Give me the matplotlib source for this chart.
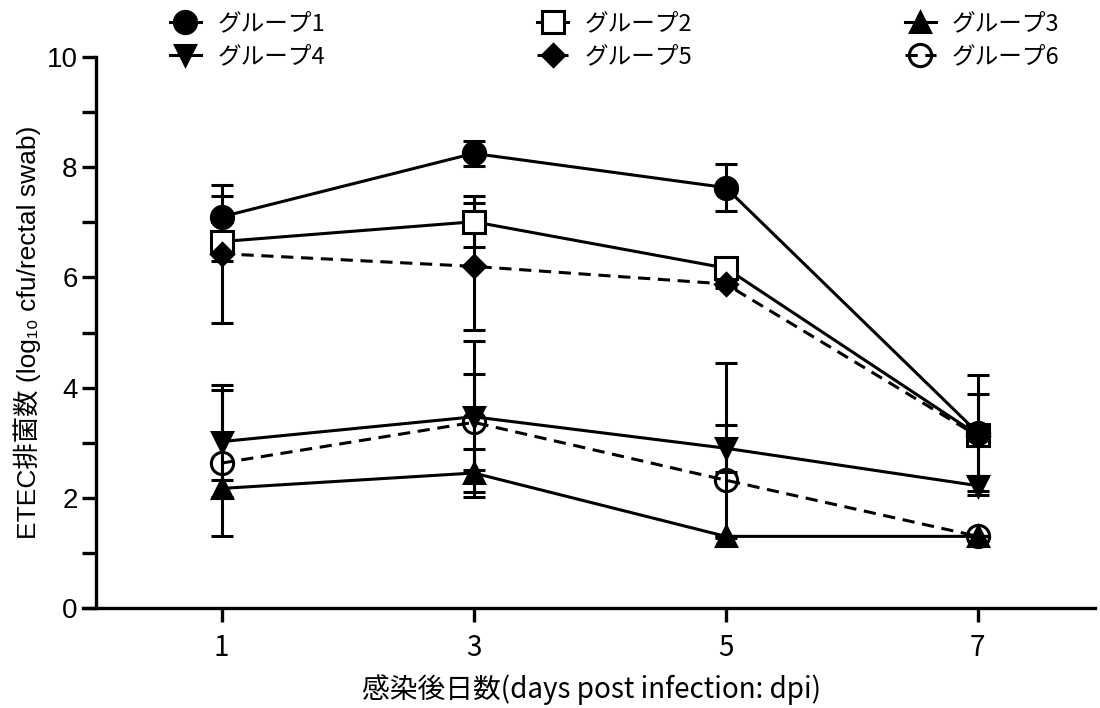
import matplotlib
matplotlib.use("Agg")
import matplotlib.pyplot as plt
from matplotlib.lines import Line2D

plt.rcParams["font.family"] = ["Noto Sans CJK JP", "DejaVu Sans"]

# ===================== データ =====================
days = [1, 3, 5, 7]

labels = ["グループ1", "グループ2", "グループ3", "グループ4", "グループ5", "グループ6"]

g1_mean = [7.10, 8.25, 7.63, 3.18]
g1_err_lo = [0.38, 0.22, 0.42, 1.05]
g1_err_hi = [0.38, 0.22, 0.42, 1.05]

g2_mean = [6.65, 7.01, 6.17, 3.14]
g2_err_lo = [0.36, 0.46, 0.10, 0.75]
g2_err_hi = [0.36, 0.46, 0.10, 0.75]

g3_mean = [2.17, 2.45, 1.30, 1.30]
g3_err_lo = [0.15, 0.43, 0.0, 0.0]
g3_err_hi = [0.15, 0.43, 0.0, 0.0]

g4_mean = [3.02, 3.47, 2.90, 2.22]
g4_err_lo = [1.03, 1.37, 0.43, 0.17]
g4_err_hi = [1.03, 1.37, 0.43, 0.17]

g5_mean = [6.43, 6.20, 5.88, 3.12]
g5_err_lo = [1.25, 1.15, 0.08, 0.10]
g5_err_hi = [1.25, 1.15, 0.08, 0.10]

g6_mean = [2.63, 3.37, 2.32, 1.30]
g6_err_lo = [1.33, 0.87, 1.05, 0.0]
g6_err_hi = [1.33, 0.87, 2.13, 0.0]

y_ticks = [0, 2, 4, 6, 8, 10]
x_ticks = [1, 3, 5, 7]

# 系列ごとの描画スタイル（白抜きは先に描いて塗りつぶし記号を上に重ねる）
series = [
    # mean, lo, hi, marker, ms, face, linestyle, 描画順
    (g1_mean, g1_err_lo, g1_err_hi, "o", 16, "black", "-", 6),
    (g2_mean, g2_err_lo, g2_err_hi, "s", 16, "white", "-", 3),
    (g3_mean, g3_err_lo, g3_err_hi, "^", 15, "black", "-", 5),
    (g4_mean, g4_err_lo, g4_err_hi, "v", 15, "black", "-", 5),
    (g5_mean, g5_err_lo, g5_err_hi, "D", 11, "black", (0, (4, 2.5)), 5),
    (g6_mean, g6_err_lo, g6_err_hi, "o", 16, "none", (0, (4, 2.5)), 4),
]

LW = 2.2

fig = plt.figure(figsize=(11, 7.08), dpi=100)
ax = fig.add_axes([83 / 1100, 1 - 608 / 708, (1095 - 83) / 1100, (608 - 57) / 708])

handles = []
for mean, lo, hi, mk, ms, face, ls, z in series:
    ax.errorbar(days, mean, yerr=[lo, hi], fmt="none", ecolor="black",
                elinewidth=LW, capsize=8, capthick=LW, zorder=2)
    ax.plot(days, mean, color="black", lw=LW, ls=ls, zorder=2)
    ax.plot(days, mean, ls="none", marker=mk, ms=ms, mfc=face, mec="black",
            mew=LW, zorder=z)
    handles.append(Line2D([], [], color="black", lw=LW, ls=ls, marker=mk, ms=ms,
                          mfc=face, mec="black", mew=LW))

# 軸
ax.set_xlim(-0.1, 7.93)
ax.set_ylim(0, 10)
ax.spines["left"].set_position(("data", 0))
ax.spines["top"].set_visible(False)
ax.spines["right"].set_visible(False)
for s in ("left", "bottom"):
    ax.spines[s].set_linewidth(2.4)

ax.set_yticks(y_ticks)
ax.set_yticks([1, 3, 5, 7, 9], minor=True)
ax.set_xticks(x_ticks)
ax.tick_params(axis="both", which="both", length=10, width=2.4, direction="out")
ax.tick_params(axis="y", pad=3)
ax.tick_params(axis="x", pad=8)
for t in ax.get_yticklabels():
    t.set_fontfamily("Liberation Sans")
    t.set_fontsize(20)
for t in ax.get_xticklabels():
    t.set_fontsize(20)

ax.set_ylabel("ETEC排菌数 (log₁₀ cfu/rectal swab)",
              family=["Liberation Sans", "Noto Sans CJK JP"], fontsize=19, labelpad=4)
fig.text(591 / 1100, 1 - 690 / 708, "感染後日数(days post infection: dpi)",
         fontsize=20, ha="center", va="center")

# 凡例: 1段目 1,2,3 / 2段目 4,5,6
order = [0, 3, 1, 4, 2, 5]
fig.legend([handles[i] for i in order], [labels[i] for i in order],
           ncol=3, loc="upper left", bbox_to_anchor=(170 / 1100, 1 - 12 / 708),
           frameon=False, fontsize=17, handlelength=1.3, handletextpad=0.7,
           columnspacing=9.0, labelspacing=0.42, borderpad=0, borderaxespad=0)

fig.savefig("out.png", dpi=100)
